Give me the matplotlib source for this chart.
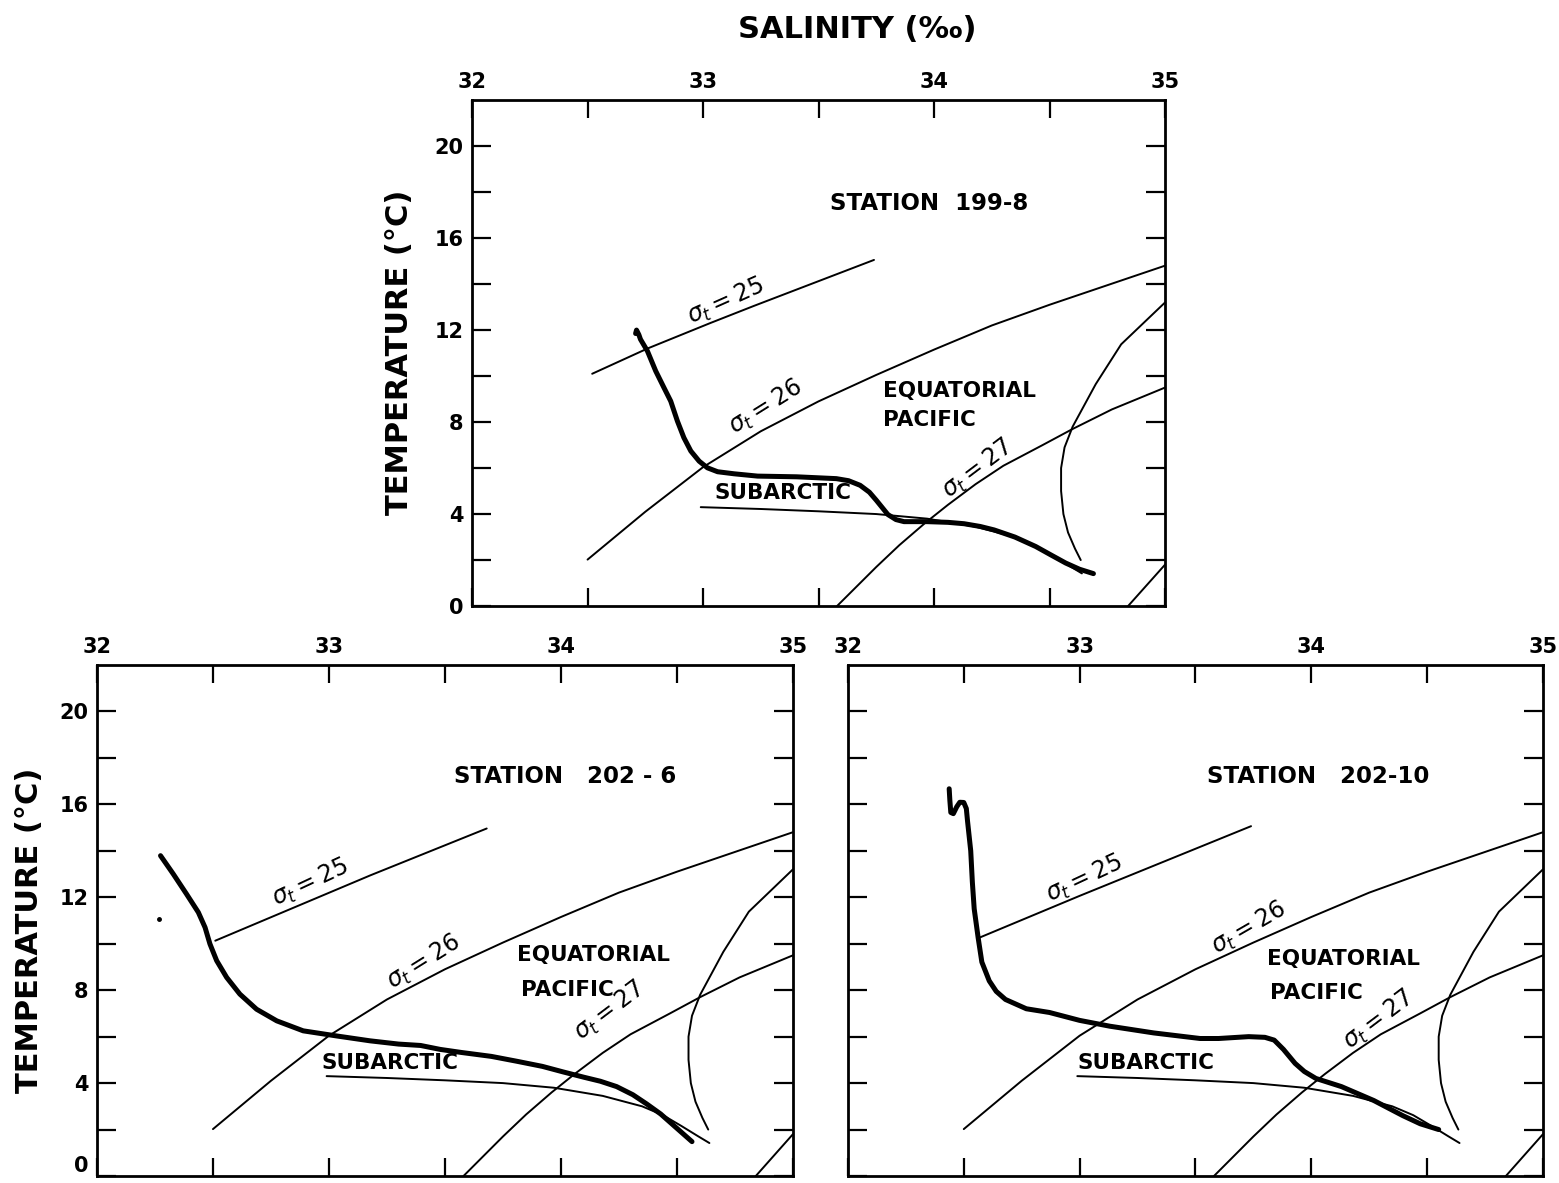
import matplotlib
matplotlib.use("Agg")
import matplotlib.pyplot as plt
from matplotlib.ticker import FixedLocator

plt.rcParams['font.family'] = ['DejaVu Sans']

# ---------------- data (salinity S in per mille, temperature T in deg C) ----------------
SAL_TICKS = [32, 32.5, 33, 33.5, 34, 34.5, 35]
SAL_LABELS = ['32', '', '33', '', '34', '', '35']
TEMP_TICKS = [0, 2, 4, 6, 8, 10, 12, 14, 16, 18, 20]
TEMP_LABELS = ['0', '', '4', '', '8', '', '12', '', '16', '', '20']

# reference curves, identical in the three panels
S26_S = [32.5, 32.75, 33.0, 33.25, 33.5, 33.75, 34.0, 34.25, 34.5, 34.75, 35.0]
S26_T = [2.02, 4.1, 6.04, 7.6, 8.9, 10.05, 11.15, 12.2, 13.1, 13.95, 14.8]
S27_S = [33.58, 33.67, 33.75, 33.85, 33.96, 34.06, 34.18, 34.3, 34.47, 34.6, 34.77, 35.0]
S27_T = [0.0, 0.9, 1.7, 2.65, 3.6, 4.4, 5.3, 6.1, 7.0, 7.7, 8.55, 9.5]
S28_S = [34.84, 35.0]
S28_T = [0.0, 1.8]
EQ_S = [35.0, 34.81, 34.7, 34.6, 34.565, 34.55, 34.55, 34.56, 34.58, 34.61, 34.635]
EQ_T = [13.2, 11.38, 9.65, 7.8, 6.9, 6.0, 5.0, 4.0, 3.2, 2.5, 2.0]
SUB_S = [32.99, 33.25, 33.5, 33.75, 33.97, 34.18, 34.35, 34.44, 34.52, 34.59, 34.64]
SUB_T = [4.3, 4.22, 4.12, 4.0, 3.8, 3.45, 3.0, 2.62, 2.15, 1.72, 1.42]

# Panel A: Station 199-8 (top)
A_S25_S = [32.52, 32.76, 33.03, 33.22, 33.48, 33.74]
A_S25_T = [10.1, 11.2, 12.3, 13.05, 14.05, 15.05]
A_OBS_S = [32.708, 32.712, 32.722, 32.729, 32.759, 32.795, 32.831, 32.86, 32.889, 32.917, 32.947,
           32.983, 33.019, 33.063, 33.135, 33.236, 33.405, 33.577, 33.63, 33.68, 33.72, 33.75,
           33.775, 33.8, 33.835, 33.87, 33.97, 34.06, 34.13, 34.2, 34.26, 34.35, 34.44, 34.51,
           34.57, 34.63, 34.69]
A_OBS_T = [11.85, 12.0, 11.8, 11.6, 11.09, 10.22, 9.49, 8.91, 8.04, 7.32, 6.74,
           6.3, 6.01, 5.84, 5.75, 5.65, 5.62, 5.54, 5.45, 5.25, 4.95, 4.6,
           4.29, 3.98, 3.76, 3.67, 3.67, 3.64, 3.58, 3.46, 3.31, 3.0, 2.59, 2.2,
           1.87, 1.6, 1.41]

# Panel B: Station 202-6 (bottom left)
B_S25_S = [32.51, 33.18, 33.68]
B_S25_T = [10.13, 12.95, 14.96]
B_OBS_S = [32.274, 32.329, 32.386, 32.437, 32.466, 32.487, 32.516, 32.559, 32.616, 32.688, 32.775,
           32.889, 33.033, 33.177, 33.3, 33.395, 33.48, 33.57, 33.7, 33.81, 33.92, 34.01, 34.1,
           34.17, 34.24, 34.31, 34.37, 34.43, 34.506, 34.565]
B_OBS_T = [13.79, 13.0, 12.14, 11.35, 10.7, 9.99, 9.27, 8.55, 7.83, 7.18, 6.68,
           6.25, 6.03, 5.82, 5.68, 5.62, 5.45, 5.32, 5.15, 4.94, 4.72, 4.48, 4.25,
           4.08, 3.85, 3.5, 3.1, 2.67, 2.0, 1.48]
B_DOT_S = [32.269]
B_DOT_T = [11.06]

# Panel C: Station 202-10 (bottom right)
C_S25_S = [32.56, 33.0, 33.74]
C_S25_T = [10.23, 12.06, 15.06]
C_OBS_S = [32.437, 32.44, 32.444, 32.455, 32.47, 32.483, 32.5, 32.511, 32.516, 32.53, 32.537,
           32.545, 32.562, 32.578, 32.61, 32.64, 32.68, 32.77, 32.87, 33.0, 33.13, 33.32, 33.52,
           33.6, 33.73, 33.8, 33.84, 33.88, 33.93, 33.97, 34.02, 34.13, 34.27, 34.395, 34.47, 34.55]
C_OBS_T = [16.67, 16.16, 15.65, 15.6, 15.9, 16.09, 16.08, 15.82, 15.3, 14.0, 12.66,
           11.5, 10.26, 9.21, 8.4, 7.95, 7.6, 7.2, 7.04, 6.7, 6.45, 6.16, 5.92,
           5.92, 6.0, 5.97, 5.85, 5.45, 4.85, 4.5, 4.2, 3.85, 3.25, 2.6, 2.25, 2.0]

STATIONS = ['STATION  199-8', 'STATION   202 - 6', 'STATION   202-10']

# ---------------- drawing ----------------
fig = plt.figure(figsize=(15.59, 11.83), dpi=100)
axA = fig.add_axes([0.3028, 0.4877, 0.4445, 0.4277])
axB = fig.add_axes([0.0622, 0.0059, 0.4464, 0.432])
axC = fig.add_axes([0.5439, 0.0059, 0.4458, 0.432])

FW = 'bold'


def style(ax, ylabels=True):
    ax.set_xlim(32, 35)
    ax.set_ylim(0, 22)
    ax.xaxis.set_major_locator(FixedLocator(SAL_TICKS))
    ax.set_xticklabels(SAL_LABELS)
    ax.yaxis.set_major_locator(FixedLocator(TEMP_TICKS))
    ax.set_yticklabels(TEMP_LABELS if ylabels else [''] * len(TEMP_TICKS))
    ax.tick_params(axis='x', direction='in', length=13, width=1.6, top=True, bottom=True,
                   labeltop=True, labelbottom=False, labelsize=15, pad=6)
    ax.tick_params(axis='y', direction='in', length=14, width=1.6, left=True, right=True,
                   labelleft=ylabels, labelright=False, labelsize=15, pad=6)
    for lab in ax.get_xticklabels() + ax.get_yticklabels():
        lab.set_fontweight(FW)
    for sp in ax.spines.values():
        sp.set_linewidth(2.0)


def panel(ax, obs, s25):
    thin = dict(color='black', lw=1.4, solid_capstyle='round', solid_joinstyle='round')
    ax.plot(*s25, **thin)
    ax.plot(S26_S, S26_T, **thin)
    ax.plot(S27_S, S27_T, **thin)
    ax.plot(S28_S, S28_T, **thin)
    ax.plot(EQ_S, EQ_T, **thin)
    ax.plot(SUB_S, SUB_T, **thin)
    ax.plot(*obs, color='black', lw=3.6, solid_capstyle='round', solid_joinstyle='round')


for ax, yl in ((axA, True), (axB, True), (axC, False)):
    style(ax, yl)
axB.get_yticklabels()[0].set_verticalalignment('bottom')

panel(axA, (A_OBS_S, A_OBS_T), (A_S25_S, A_S25_T))
panel(axB, (B_OBS_S, B_OBS_T), (B_S25_S, B_S25_T))
panel(axC, (C_OBS_S, C_OBS_T), (C_S25_S, C_S25_T))
axB.plot(B_DOT_S, B_DOT_T, 'o', color='black', ms=2.5)

LBL = dict(fontsize=15.5, fontweight=FW, color='black')
STL = dict(fontsize=16.5, fontweight=FW, color='black', ha='center', va='center')
SIG = dict(fontsize=17, color='black', ha='center', va='center')

# Panel A texts
axA.text(33.98, 17.5, STATIONS[0], **STL)
axA.text(33.78, 9.35, 'EQUATORIAL', ha='left', va='center', **LBL)
axA.text(33.78, 8.1, 'PACIFIC', ha='left', va='center', **LBL)
axA.text(33.05, 4.5, 'SUBARCTIC', ha='left', va='bottom', **LBL)
axA.text(33.1, 13.25, r'$\sigma_t=25$', rotation=24, **SIG)
axA.text(33.27, 8.65, r'$\sigma_t=26$', rotation=32, **SIG)
axA.text(34.19, 5.95, r'$\sigma_t=27$', rotation=37, **SIG)

# Panel B texts
axB.text(34.02, 17.2, STATIONS[1], **STL)
axB.text(33.81, 9.5, 'EQUATORIAL', ha='left', va='center', **LBL)
axB.text(33.83, 8.0, 'PACIFIC', ha='left', va='center', **LBL)
axB.text(32.97, 4.45, 'SUBARCTIC', ha='left', va='bottom', **LBL)
axB.text(32.92, 12.6, r'$\sigma_t=25$', rotation=25, **SIG)
axB.text(33.41, 9.2, r'$\sigma_t=26$', rotation=32, **SIG)
axB.text(34.21, 7.1, r'$\sigma_t=27$', rotation=37, **SIG)

# Panel C texts
axC.text(34.03, 17.2, STATIONS[2], **STL)
axC.text(33.81, 9.35, 'EQUATORIAL', ha='left', va='center', **LBL)
axC.text(33.82, 7.9, 'PACIFIC', ha='left', va='center', **LBL)
axC.text(32.99, 4.45, 'SUBARCTIC', ha='left', va='bottom', **LBL)
axC.text(33.02, 12.8, r'$\sigma_t=25$', rotation=25, **SIG)
axC.text(33.73, 10.65, r'$\sigma_t=26$', rotation=30, **SIG)
axC.text(34.29, 6.7, r'$\sigma_t=27$', rotation=37, **SIG)

fig.text(857 / 1559, 1 - 30 / 1183, 'SALINITY (‰)', ha='center', va='center',
         fontsize=22, fontweight=FW)
fig.text(400 / 1559, 1 - 352 / 1183, 'TEMPERATURE (°C)', ha='center', va='center',
         rotation=90, fontsize=22, fontweight=FW)
fig.text(30 / 1559, 1 - 930 / 1183, 'TEMPERATURE (°C)', ha='center', va='center',
         rotation=90, fontsize=22, fontweight=FW)

fig.savefig('out.png', dpi=100)
